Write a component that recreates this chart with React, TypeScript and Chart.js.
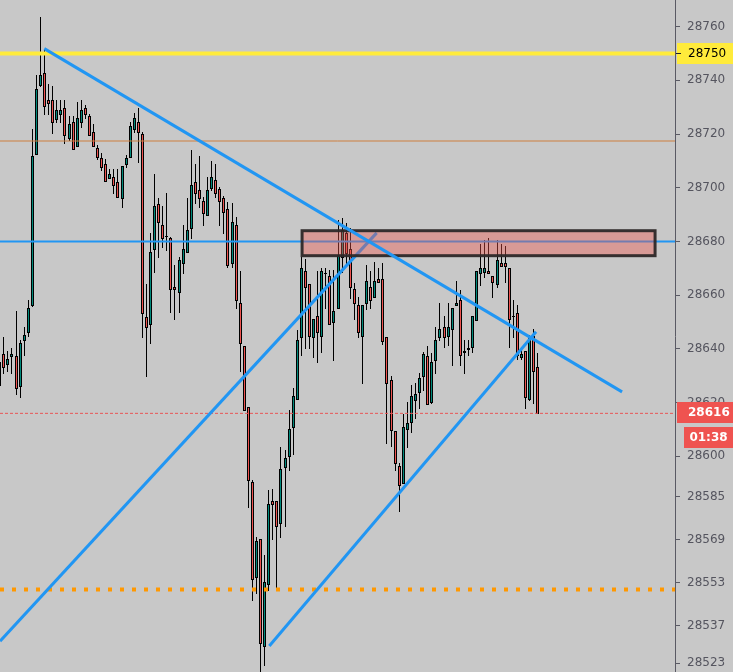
import React, { useEffect, useRef } from "react";
import { Chart, registerables } from "chart.js";

Chart.register(...registerables);

// ---- candle data (bar index = position in arrays) ----
const openP = [
  28626.6, 28638.1, 28634.4, 28637.4, 28637.4, 28626.2, 28643.3, 28646.3, 28656.4, 28712.7,
  28738.4, 28742.7, 28732.7, 28732.7, 28725.7, 28727.6, 28729.7, 28718.6, 28724.6, 28715.7,
  28724.6, 28729.7, 28726.7, 28720.7, 28714.9, 28711.1, 28708.9, 28703.8, 28703.9, 28702.0,
  28696.1, 28708.9, 28711.6, 28721.8, 28724.6, 28719.9, 28652.0, 28649.2, 28677.1, 28693.9,
  28686.0, 28682.2, 28681.2, 28663.0, 28661.1, 28671.9, 28676.0, 28684.9, 28702.0, 28699.2,
  28695.1, 28690.0, 28699.8, 28702.9, 28699.4, 28696.2, 28692.1, 28672.0, 28686.2, 28657.1,
  28641.1, 28618.3, 28590.4, 28555.2, 28569.1, 28529.4, 28552.4, 28583.3, 28583.3, 28575.1,
  28596.2, 28600.3, 28611.1, 28621.3, 28644.3, 28669.0, 28664.1, 28644.3, 28652.3, 28644.9,
  28668.1, 28667.2, 28650.1, 28655.1, 28674.1, 28683.3, 28677.1, 28662.2, 28656.3, 28644.9,
  28657.0, 28663.0, 28659.2, 28665.9, 28665.9, 28644.3, 28628.3, 28609.5, 28596.3, 28590.1,
  28610.0, 28612.9, 28621.0, 28624.1, 28630.0, 28637.4, 28620.3, 28635.9, 28644.3, 28648.1,
  28644.8, 28647.3, 28656.2, 28658.2, 28639.2, 28640.0, 28640.8, 28650.8, 28668.2, 28668.8,
  28669.0, 28667.2, 28664.1, 28671.9, 28671.9, 28670.0, 28652.3, 28653.3, 28637.1, 28639.2,
  28621.3, 28644.9, 28633.3,
];
const highP = [
  28637.0, 28644.4, 28639.2, 28640.4, 28654.1, 28643.3, 28648.2, 28658.2, 28721.9, 28742.0,
  28763.7, 28751.6, 28738.6, 28737.9, 28732.7, 28732.7, 28732.7, 28726.7, 28726.7, 28731.9,
  28732.7, 28730.8, 28727.6, 28723.6, 28715.9, 28712.8, 28710.7, 28707.0, 28707.0, 28707.0,
  28708.0, 28712.2, 28724.5, 28727.7, 28729.6, 28720.7, 28664.2, 28683.1, 28705.0, 28696.1,
  28693.2, 28697.9, 28681.8, 28671.3, 28674.3, 28686.1, 28696.1, 28714.1, 28708.9, 28711.9,
  28696.5, 28703.9, 28710.0, 28708.9, 28700.3, 28697.1, 28694.6, 28694.2, 28689.1, 28669.0,
  28641.1, 28618.3, 28591.1, 28570.1, 28569.1, 28563.3, 28587.5, 28587.7, 28583.3, 28603.6,
  28602.4, 28617.3, 28625.6, 28647.1, 28674.3, 28673.4, 28664.1, 28651.2, 28669.0, 28670.0,
  28670.0, 28669.4, 28669.4, 28688.0, 28688.8, 28686.9, 28685.0, 28664.6, 28659.3, 28656.3,
  28671.3, 28669.1, 28672.4, 28670.0, 28672.0, 28644.3, 28629.9, 28609.5, 28597.4, 28615.8,
  28620.4, 28626.6, 28627.4, 28630.9, 28639.0, 28641.1, 28638.4, 28648.2, 28657.1, 28652.3,
  28657.1, 28655.1, 28665.3, 28661.9, 28643.3, 28643.3, 28652.3, 28669.0, 28679.1, 28680.6,
  28681.2, 28667.2, 28680.6, 28679.1, 28678.3, 28670.0, 28658.2, 28656.4, 28640.8, 28639.2,
  28645.2, 28647.4, 28638.4,
];
const lowP = [
  28622.9, 28631.0, 28631.8, 28631.0, 28623.2, 28622.1, 28637.7, 28644.8, 28656.0, 28712.6,
  28737.9, 28727.6, 28727.6, 28720.5, 28724.6, 28724.6, 28716.8, 28717.8, 28714.6, 28715.7,
  28722.7, 28725.9, 28719.8, 28715.7, 28710.7, 28706.6, 28702.6, 28703.8, 28697.9, 28696.7,
  28693.0, 28707.9, 28711.6, 28720.8, 28709.7, 28644.3, 28630.0, 28642.1, 28668.8, 28674.3,
  28678.1, 28676.8, 28653.9, 28651.0, 28653.9, 28668.2, 28676.0, 28681.2, 28694.2, 28693.0,
  28686.0, 28690.0, 28699.2, 28696.7, 28686.3, 28683.2, 28670.5, 28670.5, 28655.1, 28631.9,
  28617.3, 28581.3, 28546.5, 28549.1, 28519.0, 28522.3, 28550.3, 28569.1, 28551.1, 28570.1,
  28574.2, 28594.9, 28600.9, 28621.3, 28637.7, 28640.2, 28640.5, 28637.1, 28635.0, 28639.0,
  28655.1, 28649.2, 28635.9, 28655.1, 28668.6, 28671.3, 28658.9, 28651.2, 28644.6, 28627.2,
  28654.9, 28655.1, 28659.2, 28665.0, 28641.8, 28605.1, 28603.9, 28594.9, 28579.7, 28590.1,
  28603.4, 28609.2, 28614.2, 28618.0, 28624.7, 28619.4, 28620.0, 28631.0, 28643.3, 28640.7,
  28641.5, 28634.0, 28656.2, 28634.0, 28631.0, 28637.7, 28639.0, 28650.8, 28663.8, 28666.9,
  28668.2, 28659.2, 28663.2, 28671.0, 28665.0, 28640.8, 28644.3, 28636.1, 28636.1, 28618.1,
  28621.0, 28620.0, 28616.0,
];
const closeP = [
  28635.1, 28633.3, 28636.3, 28638.1, 28625.5, 28642.2, 28645.2, 28655.2, 28711.8, 28736.8,
  28742.0, 28730.6, 28731.7, 28724.6, 28729.0, 28729.0, 28719.8, 28723.6, 28714.6, 28725.9,
  28729.0, 28727.6, 28719.8, 28715.7, 28711.6, 28707.9, 28702.6, 28705.0, 28700.9, 28696.7,
  28708.0, 28711.0, 28723.0, 28725.9, 28720.7, 28653.3, 28648.1, 28676.0, 28693.1, 28687.2,
  28681.2, 28681.9, 28662.2, 28662.2, 28673.0, 28677.1, 28684.2, 28701.0, 28697.9, 28696.1,
  28690.7, 28699.2, 28703.9, 28697.9, 28694.9, 28691.0, 28671.1, 28687.3, 28658.1, 28642.1,
  28617.3, 28591.2, 28554.2, 28568.5, 28530.4, 28553.1, 28582.3, 28582.2, 28574.2, 28595.3,
  28599.3, 28610.2, 28622.5, 28643.3, 28670.0, 28663.0, 28644.9, 28651.2, 28646.2, 28669.0,
  28668.3, 28649.2, 28654.1, 28675.0, 28684.3, 28675.8, 28663.0, 28657.0, 28646.2, 28656.3,
  28665.3, 28658.2, 28665.3, 28665.0, 28643.1, 28627.2, 28609.8, 28597.4, 28589.2, 28611.1,
  28612.3, 28622.4, 28623.1, 28629.3, 28638.0, 28619.4, 28635.0, 28643.3, 28647.4, 28644.3,
  28648.1, 28655.1, 28657.0, 28637.9, 28639.0, 28640.2, 28652.3, 28669.0, 28670.0, 28670.0,
  28668.2, 28665.0, 28673.1, 28671.0, 28671.0, 28651.0, 28652.1, 28637.9, 28638.0, 28622.2,
  28644.6, 28631.9, 28616.0,
];

// ---- axis tick labels ----
const priceTicks = [28760, 28740, 28720, 28700, 28680, 28660, 28640, 28620, 28600, 28585, 28569, 28553, 28537, 28523];

// ---- horizontal levels ----
const resistanceLevel = 28750;
const pivotLevel = 28717.4;
const keyLevel = 28680;
const lastPrice = 28616;
const supportLevel = 28550.4;
const countdownText = "01:38";

// ---- trend lines (bar index, price) ----
const downTrendX = [11.06, 152.8];
const downTrendY = [28751.8, 28624.0];
const upTrend1X = [0.19, 92.6];
const upTrend1Y = [28531.2, 28683.2];
const upTrend2X = [66.26, 131.7];
const upTrend2Y = [28529.4, 28646.4];

// ---- supply zone (bar index range, price range) ----
const zoneX = [74.3, 160.9];
const zoneY = [28674.7, 28684.0];

const X_MIN = 0.19;
const X_MAX = 165.79;
const Y_MIN = 28519.7;
const Y_MAX = 28769.9;

const BG = "#c8c8c8";
const UP = "#00897b";
const DOWN = "#ef5350";
const AXIS = "#5a5a64";
const FONT = '"DejaVu Sans", sans-serif';

export default function App() {
  const ref = useRef<HTMLCanvasElement>(null);

  useEffect(() => {
    document.body.style.margin = "0";
    const canvas = ref.current;
    if (!canvas) return;

    const seg = (xs: number[], ys: number[]) => xs.map((x, i) => ({ x, y: ys[i] }));
    const hline = (v: number) => [{ x: X_MIN, y: v }, { x: X_MAX, y: v }];

    const plugin = {
      id: "mt4",
      beforeDraw(chart: any) {
        const { ctx } = chart;
        ctx.save();
        ctx.fillStyle = BG;
        ctx.fillRect(0, 0, chart.width, chart.height);
        ctx.restore();
      },
      beforeDatasetsDraw(chart: any) {
        const { ctx, chartArea: a } = chart;
        const xs = chart.scales.x;
        const ys = chart.scales.y;
        ctx.save();
        ctx.beginPath();
        ctx.rect(a.left, a.top, a.right - a.left, a.bottom - a.top);
        ctx.clip();
        for (let i = 0; i < openP.length; i++) {
          const cx = Math.round(xs.getPixelForValue(i));
          const yH = Math.round(ys.getPixelForValue(highP[i]));
          const yL = Math.round(ys.getPixelForValue(lowP[i]));
          const yO = ys.getPixelForValue(openP[i]);
          const yC = ys.getPixelForValue(closeP[i]);
          const top = Math.round(Math.min(yO, yC));
          const bot = Math.round(Math.max(yO, yC));
          ctx.fillStyle = "#000";
          ctx.fillRect(cx, yH, 1, yL - yH + 1);
          ctx.fillRect(cx - 1, top, 3, bot - top + 1);
          if (bot - top >= 2) {
            ctx.fillStyle = closeP[i] >= openP[i] ? UP : DOWN;
            ctx.fillRect(cx, top + 1, 1, bot - top - 1);
          }
        }
        ctx.restore();
      },
      beforeDatasetDraw(chart: any, args: any) {
        if (args.index !== 0) return;
        const { ctx, chartArea: a } = chart;
        const xs = chart.scales.x;
        const ys = chart.scales.y;
        const x1 = xs.getPixelForValue(zoneX[0]);
        const x2 = xs.getPixelForValue(zoneX[1]);
        const y1 = ys.getPixelForValue(zoneY[1]);
        const y2 = ys.getPixelForValue(zoneY[0]);
        ctx.save();
        ctx.beginPath();
        ctx.rect(a.left, a.top, a.right - a.left, a.bottom - a.top);
        ctx.clip();
        ctx.fillStyle = "rgba(240,85,75,0.4)";
        ctx.fillRect(x1, y1, x2 - x1, y2 - y1);
        ctx.strokeStyle = "rgba(45,40,40,0.95)";
        ctx.lineWidth = 3;
        ctx.strokeRect(x1, y1, x2 - x1, y2 - y1);
        ctx.restore();
      },
      afterDraw(chart: any) {
        const { ctx } = chart;
        const ys = chart.scales.y;
        const axisX = chart.chartArea.right;
        const W = chart.width;
        ctx.save();
        ctx.textBaseline = "middle";
        // yellow level tag
        let yc = ys.getPixelForValue(resistanceLevel);
        ctx.fillStyle = "#ffeb3b";
        ctx.fillRect(axisX + 2, Math.round(yc - 10.5), W - axisX - 2, 21);
        ctx.fillStyle = "#222";
        ctx.fillRect(axisX + 1, Math.round(yc), 5, 1);
        ctx.font = `12px ${FONT}`;
        ctx.textAlign = "left";
        ctx.fillStyle = "#000";
        ctx.fillText(String(resistanceLevel), axisX + 13, yc + 0.5);
        // last price tag
        yc = ys.getPixelForValue(lastPrice);
        ctx.fillStyle = DOWN;
        ctx.fillRect(axisX + 2, Math.round(yc - 11), W - axisX - 2, 21);
        ctx.fillStyle = "#fff";
        ctx.font = `bold 12px ${FONT}`;
        ctx.fillText(String(lastPrice), axisX + 13, yc);
        // countdown tag
        const ty = yc + 24;
        ctx.fillStyle = DOWN;
        ctx.fillRect(axisX + 9, Math.round(ty - 10.5), W - axisX - 9, 21);
        ctx.fillStyle = "#fff";
        ctx.textAlign = "center";
        ctx.fillText(countdownText, (axisX + 9 + W) / 2, ty + 0.5);
        ctx.restore();
      },
    };

    const chart = new Chart(canvas, {
      type: "line",
      data: {
        datasets: [
          { data: seg(downTrendX, downTrendY), borderColor: "#2196f3", borderWidth: 3, order: 0 },
          { data: seg(upTrend1X, upTrend1Y), borderColor: "#2196f3", borderWidth: 3, order: 2 },
          { data: seg(upTrend2X, upTrend2Y), borderColor: "#2196f3", borderWidth: 3, order: 2 },
          { data: hline(resistanceLevel), borderColor: "#ffeb3b", borderWidth: 4, order: 3 },
          { data: hline(pivotLevel), borderColor: "#cd7f3f", borderWidth: 1, order: 3 },
          { data: hline(keyLevel), borderColor: "#2196f3", borderWidth: 2, order: 3 },
          { data: hline(lastPrice), borderColor: "#e85555", borderWidth: 1, borderDash: [3, 2], order: 3 },
          { data: hline(supportLevel), borderColor: "#ff9800", borderWidth: 4, borderDash: [4, 8], order: 3 },
        ] as any,
      },
      options: {
        responsive: false,
        animation: false,
        devicePixelRatio: 1,
        events: [],
        layout: { padding: 0 },
        elements: { point: { radius: 0 }, line: { tension: 0, fill: false } },
        plugins: { legend: { display: false }, tooltip: { enabled: false }, title: { display: false } },
        scales: {
          x: { type: "linear", min: X_MIN, max: X_MAX, display: false },
          y: {
            type: "linear",
            position: "right",
            min: Y_MIN,
            max: Y_MAX,
            afterBuildTicks: (s: any) => {
              s.ticks = priceTicks.map((v) => ({ value: v }));
            },
            afterFit: (s: any) => {
              s.width = 58;
              s.paddingTop = 0;
              s.paddingBottom = 0;
            },
            grid: { drawOnChartArea: false, drawTicks: true, tickLength: 5, color: AXIS, lineWidth: 1 },
            border: { display: true, color: AXIS, width: 1 },
            ticks: {
              autoSkip: false,
              padding: 7,
              color: "#55555f",
              font: { family: FONT, size: 12 },
              callback: (v: any) => String(v),
            },
          },
        },
      } as any,
      plugins: [plugin],
    });

    return () => chart.destroy();
  }, []);

  return <canvas ref={ref} width={733} height={672} style={{ display: "block" }} />;
}
